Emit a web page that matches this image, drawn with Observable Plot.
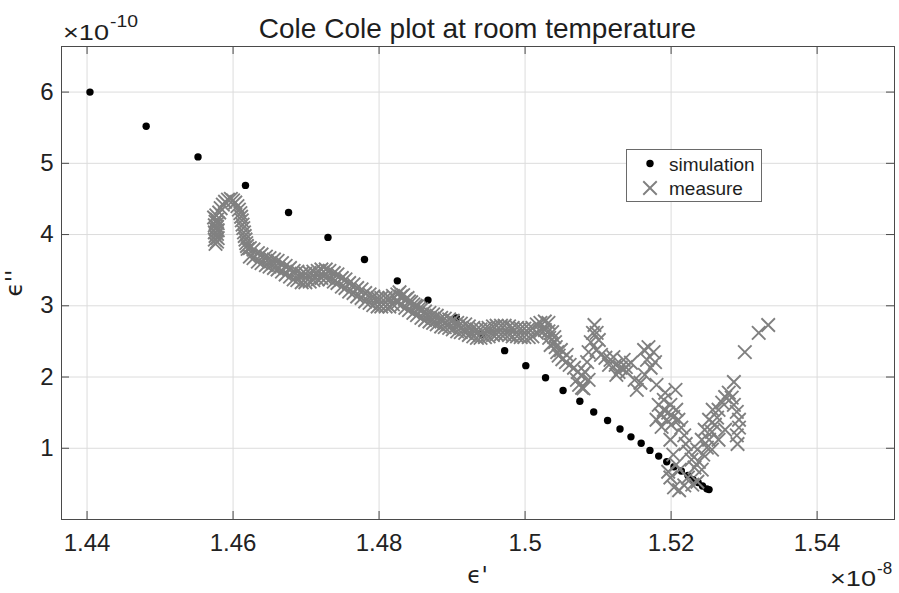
<!DOCTYPE html>
<html><head><meta charset="utf-8">
<script src="https://cdn.jsdelivr.net/npm/d3@7"></script>
<script src="https://cdn.jsdelivr.net/npm/@observablehq/plot@0.6"></script>
<style>body{margin:0;background:#fff} svg{display:block}</style>
</head><body><div id="chart"></div>
<script>
// ---- data (epsilon' in 1e-8, epsilon'' in 1e-10) ----
const titleText = "Cole Cole plot at room temperature";
const xTicks = [1.44, 1.46, 1.48, 1.5, 1.52, 1.54];
const xTickLabels = ["1.44", "1.46", "1.48", "1.5", "1.52", "1.54"];
const yTicks = [1, 2, 3, 4, 5, 6];
const yTickLabels = ["1", "2", "3", "4", "5", "6"];
const xDomain = [1.4365, 1.5506];
const yDomain = [0, 6.64];
const seriesNames = ["simulation", "measure"];

const simX = [1.4404,1.4481,1.4552,1.4617,1.4676,1.4730,1.4780,1.4825,1.4867,1.4906,1.4940,1.4972,1.5001,1.5028,1.5052,1.5075,1.5094,1.5113,1.5130,1.5145,1.5159,1.5171,1.5183,1.5194,1.5204,1.5214,1.5223,1.5230,1.5237,1.5243,1.5249,1.5252];
const simY = [6.00,5.52,5.09,4.69,4.31,3.96,3.65,3.35,3.08,2.83,2.60,2.37,2.16,1.99,1.81,1.66,1.51,1.39,1.27,1.16,1.07,0.97,0.89,0.81,0.74,0.68,0.62,0.56,0.52,0.47,0.43,0.42];

const measured = [
[1.4576,3.87],[1.4578,3.90],[1.4575,3.93],[1.4579,3.95],[1.4576,3.98],[1.4578,4.01],[1.4575,4.03],[1.4579,4.06],
[1.4576,4.08],[1.4578,4.11],[1.4575,4.13],[1.4579,4.16],[1.4576,4.18],[1.4578,4.21],[1.4574,4.24],[1.4577,4.27],
[1.4581,4.31],[1.4583,4.37],[1.4586,4.42],[1.4589,4.46],[1.4593,4.49],[1.4597,4.50],[1.4600,4.48],[1.4603,4.45],
[1.4606,4.40],[1.4608,4.35],[1.4610,4.30],[1.4611,4.25],[1.4612,4.20],[1.4613,4.14],[1.4614,4.09],[1.4615,4.03],
[1.4616,3.98],[1.4617,3.93],[1.4618,3.88],[1.4619,3.84],[1.4620,3.80],
[1.4623,3.81],[1.4623,3.69],[1.4628,3.79],[1.4628,3.67],[1.4634,3.74],[1.4634,3.62],[1.4639,3.72],[1.4639,3.60],
[1.4645,3.69],[1.4645,3.57],[1.4650,3.67],[1.4650,3.55],[1.4656,3.65],[1.4656,3.53],[1.4661,3.63],[1.4661,3.51],
[1.4667,3.60],[1.4667,3.48],[1.4672,3.56],[1.4672,3.44],[1.4678,3.53],[1.4678,3.41],[1.4683,3.49],[1.4683,3.37],
[1.4688,3.48],[1.4688,3.36],[1.4694,3.45],[1.4694,3.33],[1.4699,3.45],[1.4699,3.33],[1.4705,3.46],[1.4705,3.34],
[1.4710,3.48],[1.4710,3.36],[1.4716,3.49],[1.4716,3.37],[1.4721,3.51],[1.4721,3.39],[1.4727,3.51],[1.4727,3.39],
[1.4732,3.49],[1.4732,3.37],[1.4738,3.46],[1.4738,3.34],[1.4743,3.44],[1.4743,3.32],[1.4749,3.39],[1.4749,3.27],
[1.4754,3.37],[1.4754,3.25],[1.4759,3.32],[1.4759,3.20],[1.4765,3.30],[1.4765,3.18],[1.4770,3.25],[1.4770,3.13],
[1.4776,3.23],[1.4776,3.11],[1.4781,3.18],[1.4781,3.06],[1.4787,3.16],[1.4787,3.04],[1.4792,3.13],[1.4792,3.01],
[1.4798,3.11],[1.4798,2.99],[1.4803,3.11],[1.4803,2.99],[1.4809,3.11],[1.4809,2.99],[1.4814,3.11],[1.4814,2.99],
[1.4819,3.14],[1.4819,3.02],[1.4825,3.16],[1.4825,3.04],[1.4830,3.13],[1.4830,3.01],[1.4836,3.09],[1.4836,2.97],
[1.4841,3.06],[1.4841,2.94],[1.4847,3.02],[1.4847,2.90],[1.4852,2.99],[1.4852,2.87],[1.4858,2.95],[1.4858,2.83],
[1.4863,2.92],[1.4863,2.80],[1.4869,2.90],[1.4869,2.78],[1.4874,2.88],[1.4874,2.76],[1.4879,2.86],[1.4879,2.74],
[1.4885,2.83],[1.4885,2.71],[1.4890,2.82],[1.4890,2.70],[1.4896,2.81],[1.4896,2.69],[1.4901,2.79],[1.4901,2.67],
[1.4907,2.76],[1.4907,2.64],[1.4912,2.75],[1.4912,2.63],[1.4918,2.74],[1.4918,2.62],[1.4923,2.71],[1.4923,2.59],
[1.4929,2.69],[1.4929,2.57],[1.4934,2.67],[1.4934,2.55],[1.4939,2.67],[1.4939,2.55],[1.4945,2.68],[1.4945,2.56],
[1.4950,2.69],[1.4950,2.57],[1.4956,2.71],[1.4956,2.59],[1.4961,2.72],[1.4961,2.60],[1.4967,2.72],[1.4967,2.60],
[1.4972,2.72],[1.4972,2.60],[1.4978,2.71],[1.4978,2.59],[1.4983,2.69],[1.4983,2.57],[1.4989,2.69],[1.4989,2.57],
[1.4994,2.68],[1.4994,2.56],[1.4999,2.68],[1.4999,2.56],[1.5005,2.68],[1.5005,2.56],[1.5010,2.69],[1.5010,2.57],
[1.5016,2.74],[1.5016,2.62],[1.5021,2.76],[1.5021,2.64],[1.5027,2.78],[1.5027,2.66],[1.5032,2.76],[1.5032,2.64],
[1.4828,3.19],[1.4833,3.15],[1.4839,3.11],[1.4844,3.05],[1.4850,3.00],[1.4855,2.96],
[1.5037,2.63],[1.5040,2.56],[1.5041,2.49],[1.5042,2.42],[1.5044,2.35],[1.5046,2.30],[1.5051,2.25],[1.5056,2.21],
[1.5061,2.17],[1.5067,2.13],[1.5072,2.07],[1.5078,2.02],[1.5071,1.96],[1.5074,1.89],[1.5078,1.85],[1.5033,2.55],
[1.5035,2.45],[1.5049,2.38],[1.5057,2.31],[1.5080,1.84],
[1.5082,2.07],[1.5085,2.21],[1.5087,2.35],[1.5090,2.49],[1.5093,2.62],[1.5095,2.73],[1.5098,2.62],[1.5101,2.52],
[1.5098,2.38],[1.5104,2.31],[1.5087,1.96],
[1.5110,2.27],[1.5117,2.24],[1.5124,2.17],[1.5131,2.13],[1.5138,2.14],[1.5145,2.20],[1.5128,2.07],[1.5135,2.24],
[1.5121,2.28],[1.5139,2.07],[1.5115,2.17],[1.5125,2.03],
[1.5163,2.38],[1.5169,2.42],[1.5176,2.35],[1.5167,2.24],[1.5172,2.13],[1.5164,2.03],[1.5158,1.92],[1.5153,1.82],
[1.5150,1.96],[1.5178,2.21],[1.5180,1.89],
[1.5183,1.61],[1.5190,1.54],[1.5196,1.50],[1.5203,1.44],[1.5194,1.40],[1.5186,1.47],[1.5199,1.61],[1.5207,1.54],
[1.5210,1.40],[1.5190,1.68],[1.5200,1.33],[1.5180,1.40],[1.5192,1.78],[1.5206,1.82],[1.5187,1.30],
[1.5214,1.29],[1.5218,1.18],[1.5220,1.06],[1.5224,0.95],[1.5228,0.84],[1.5232,0.73],
[1.5199,1.12],[1.5203,0.91],[1.5207,0.77],[1.5199,0.59],[1.5204,0.45],[1.5211,0.41],[1.5218,0.48],[1.5196,0.67],
[1.5223,0.59],[1.5229,0.49],[1.5236,0.53],[1.5212,0.70],
[1.5238,0.81],[1.5244,0.91],[1.5249,1.01],[1.5252,1.12],[1.5256,1.23],[1.5260,1.33],[1.5263,1.43],[1.5265,1.54],
[1.5270,1.64],[1.5274,1.72],[1.5279,1.78],[1.5283,1.71],[1.5286,1.61],[1.5290,1.51],[1.5293,1.40],[1.5293,1.29],
[1.5290,1.18],[1.5291,1.06],[1.5246,1.26],[1.5252,1.40],[1.5257,1.54],[1.5242,1.12],[1.5236,0.98],[1.5256,0.98],
[1.5265,1.12],[1.5274,1.26],[1.5242,0.70],
[1.5286,1.93],[1.5301,2.35],[1.5320,2.62],[1.5333,2.73]
];

// ---- layout ----
const W = 899, H = 593, mL = 61, mR = 5, mT = 46, mB = 74;
const innerW = W - mL - mR, innerH = H - mT - mB;
const font = "'Liberation Sans', Arial, Helvetica, sans-serif";
const axisColor = "#4a4a4a";
const gridColor = "#dcdcdc";
const measColor = "#808080";

const sim = simX.map((x, i) => ({x, y: simY[i]}));
const meas = measured.map(([x, y]) => ({x, y}));

const chart = Plot.plot({
  width: W, height: H,
  marginLeft: mL, marginRight: mR, marginTop: mT, marginBottom: mB,
  style: {fontFamily: font, background: "#fff", color: "#222"},
  x: {domain: xDomain},
  y: {domain: yDomain},
  marks: [
    Plot.gridX(xTicks, {stroke: gridColor, strokeOpacity: 1}),
    Plot.gridY(yTicks, {stroke: gridColor, strokeOpacity: 1}),
    Plot.tickX(xTicks, {insetTop: innerH - 8, stroke: axisColor}),
    Plot.tickX(xTicks, {insetBottom: innerH - 8, stroke: axisColor}),
    Plot.tickY(yTicks, {insetRight: innerW - 8, stroke: axisColor}),
    Plot.tickY(yTicks, {insetLeft: innerW - 8, stroke: axisColor}),
    Plot.axisX(xTicks, {anchor: "bottom", tickSize: 0, tickPadding: 14, fontSize: 24, label: null,
      tickFormat: d => xTickLabels[xTicks.indexOf(d)]}),
    Plot.axisY(yTicks, {anchor: "left", tickSize: 0, tickPadding: 8, fontSize: 24, label: null,
      tickFormat: d => yTickLabels[yTicks.indexOf(d)]}),
    Plot.dot(sim, {x: "x", y: "y", r: 3.7, fill: "#000", stroke: "none"}),
    Plot.dot(meas, {x: "x", y: "y", symbol: "times", r: 6.2, stroke: measColor, strokeWidth: 1.9}),
    Plot.frame({stroke: axisColor})
  ]
});

const svg = d3.select(chart);
function addText(x, y, str, size, opts = {}) {
  const t = svg.append("text")
    .attr("x", x).attr("y", y)
    .attr("font-family", opts.family || font)
    .attr("font-size", size)
    .attr("fill", "#1e1e1e")
    .attr("text-anchor", opts.anchor || "start")
    .text(str);
  if (opts.transform) t.attr("transform", opts.transform);
  if (opts.len) t.attr("textLength", opts.len).attr("lengthAdjust", "spacingAndGlyphs");
  return t;
}
// title
addText(mL + innerW / 2, 37.5, titleText, 28, {anchor: "middle"});
// exponent labels
addText(63, 40, "\u00d710", 22, {len: 46});
addText(110, 27, "-10", 17, {len: 28});
addText(830, 586, "\u00d710", 22, {len: 46});
addText(877, 574, "-8", 17);
// axis labels
addText(mL + innerW / 2, 583, "\u03f5'", 23, {anchor: "middle", family: "'DejaVu Sans', " + font});
addText(0, 0, "\u03f5''", 23, {anchor: "middle", family: "'DejaVu Sans', " + font, transform: "translate(22,283) rotate(-90)"});
// legend
const lg = svg.append("g");
lg.append("rect").attr("x", 626.5).attr("y", 149.5).attr("width", 135).attr("height", 52)
  .attr("fill", "#fff").attr("stroke", "#6a6a6a").attr("stroke-width", 1);
lg.append("circle").attr("cx", 650).attr("cy", 163.5).attr("r", 3.7).attr("fill", "#000");
lg.append("path").attr("d", d3.symbol(d3.symbolTimes, Math.PI * 6.2 * 6.2)())
  .attr("transform", "translate(650,188)").attr("fill", "none")
  .attr("stroke", measColor).attr("stroke-width", 1.9);
addText(669, 170.5, seriesNames[0], 19);
addText(669, 194.5, seriesNames[1], 19);

document.getElementById("chart").appendChild(chart);
</script>
</body></html>
